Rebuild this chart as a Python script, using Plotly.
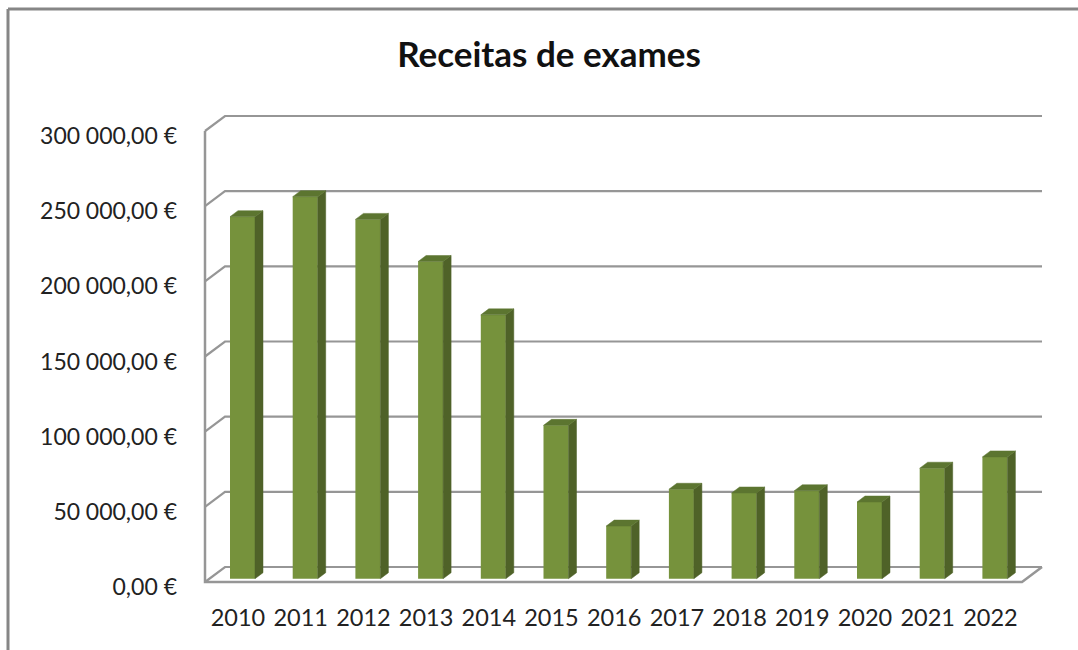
import plotly.graph_objects as go

years = ["2010", "2011", "2012", "2013", "2014", "2015", "2016", "2017", "2018", "2019", "2020", "2021", "2022"]
revenue = [240800, 254100, 239000, 211000, 175500, 102000, 35000, 59500, 57000, 58500, 51000, 73500, 81000]
y_ticks = [0, 50000, 100000, 150000, 200000, 250000, 300000]
y_labels = ["0,00 €", "50\u202f000,00 €", "100\u202f000,00 €", "150\u202f000,00 €",
            "200\u202f000,00 €", "250\u202f000,00 €", "300\u202f000,00 €"]

W, H = 1078, 650
L, R, T, B = 195, 1055, 105, 600      # axes box in px
FRONT_L, BACK_R, ZERO_PX = 205, 1042, 582
PX_X = 62.7                           # px per category
PX_Y = 451 / 300000                   # px per euro
X0_PX = 238                           # px of first category
xmin = (L - X0_PX) / PX_X
xmax = (R - X0_PX) / PX_X
ymin = -(B - ZERO_PX) / PX_Y
ymax = (ZERO_PX - T) / PX_Y
x_left = (FRONT_L - X0_PX) / PX_X
x_right = (BACK_R - X0_PX) / PX_X

wall_dx, wall_dy = 20 / PX_X, 15 / PX_Y      # depth of the floor/wall
bar_shift = 4.5 / PX_X                        # bar offset from tick
bar_w = 25 / PX_X
bar_base = 3.3 / PX_Y
bar_dx, bar_dy = 8 / PX_X, 6 / PX_Y           # depth of a bar
label_drop = 5 / PX_Y                         # y labels sit a little below their line

GRID = "#969696"
FRONT, SIDE, TOP = "#76923C", "#4F6228", "#5C7530"
idx = list(range(len(years)))

fig = go.Figure()


def grid_path(points):
    return "M " + " L ".join(f"{x} {y}" for x, y in points)


shapes = []
for t in y_ticks:
    shapes.append(dict(type="path", xref="x", yref="y", layer="below",
                       path=grid_path([(x_left, t), (x_left + wall_dx, t + wall_dy), (x_right, t + wall_dy)]),
                       line=dict(color=GRID, width=2.2)))
shapes.append(dict(type="path", xref="x", yref="y", layer="below",
                   path=grid_path([(x_left, y_ticks[-1]), (x_left, 0), (x_right - wall_dx, 0), (x_right, wall_dy)]),
                   line=dict(color=GRID, width=2.5)))
# outer chart frame (top and left only)
shapes.append(dict(type="line", xref="paper", yref="paper", x0=8 / W, x1=1, y0=1 - 9 / H, y1=1 - 9 / H,
                   line=dict(color="#868686", width=3)))
shapes.append(dict(type="line", xref="paper", yref="paper", x0=8 / W, x1=8 / W, y0=1 - 9 / H, y1=0,
                   line=dict(color="#868686", width=3)))

# bar sides and tops
for i, v in zip(idx, revenue):
    left = i + bar_shift - bar_w / 2
    right = left + bar_w
    fig.add_trace(go.Scatter(
        x=[right, right + bar_dx, right + bar_dx, right, right],
        y=[bar_base, bar_base + bar_dy, bar_base + v + bar_dy, bar_base + v, bar_base],
        fill="toself", fillcolor=SIDE, mode="lines", line=dict(color=SIDE, width=0.5),
        hoverinfo="skip", showlegend=False))
    fig.add_trace(go.Scatter(
        x=[left, left + bar_dx, right + bar_dx, right, left],
        y=[bar_base + v, bar_base + v + bar_dy, bar_base + v + bar_dy, bar_base + v, bar_base + v],
        fill="toself", fillcolor=TOP, mode="lines", line=dict(color=TOP, width=0.5),
        hoverinfo="skip", showlegend=False))

# bar fronts
fig.add_trace(go.Bar(
    x=[i + bar_shift for i in idx], y=revenue, base=bar_base, width=bar_w,
    marker=dict(color=FRONT, line=dict(width=0)), showlegend=False))

fig.update_layout(
    width=W, height=H, autosize=False,
    margin=dict(l=0, r=0, t=0, b=0),
    paper_bgcolor="white", plot_bgcolor="white",
    font=dict(family="Lato", color="#222222", size=23),
    title=dict(text="<b>Receitas de exames</b>", x=549 / W, y=1 - 55 / H, xanchor="center", yanchor="middle",
               font=dict(family="Lato", size=35, color="#111111")),
    xaxis=dict(domain=[L / W, R / W], range=[xmin, xmax], tickmode="array", tickvals=idx, ticktext=years,
               showgrid=False, zeroline=False, showline=False, ticks="", ticklabelstandoff=1,
               tickfont=dict(size=23.5)),
    yaxis=dict(domain=[1 - B / H, 1 - T / H], range=[ymin, ymax], tickmode="array",
               tickvals=[t - label_drop for t in y_ticks], ticktext=y_labels,
               showgrid=False, zeroline=False, showline=False, ticks="", ticklabelstandoff=17,
               tickfont=dict(size=23)),
    shapes=shapes,
)

fig.write_html("out.html", config={"displayModeBar": False},
               post_script="document.body.style.margin='0';window.dispatchEvent(new Event('resize'));")
